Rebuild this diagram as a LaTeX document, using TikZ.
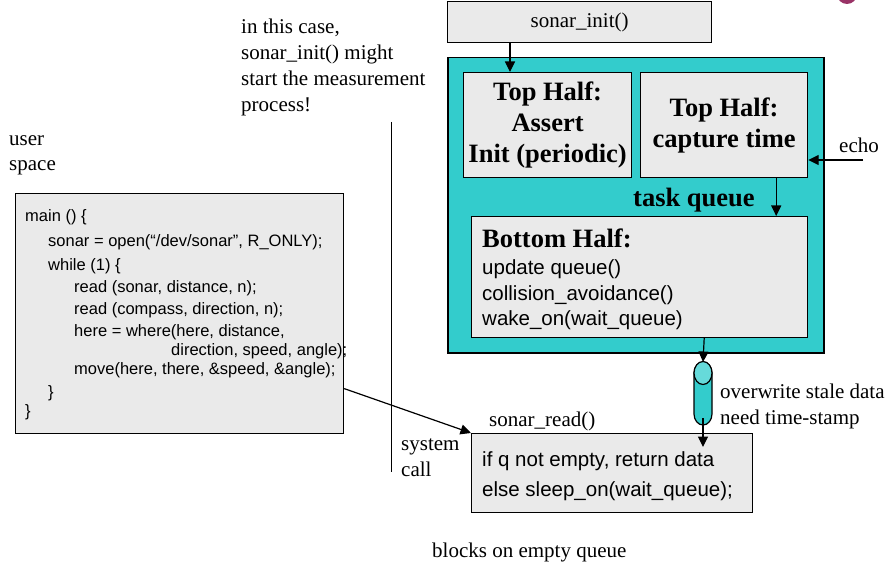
\documentclass[tikz,border=0pt]{standalone}
\usepackage{fontspec}
\setmainfont{Liberation Serif}
\setsansfont{Liberation Sans}
\usetikzlibrary{arrows.meta,positioning}
\definecolor{boxgray}{HTML}{EAEAEA}
\definecolor{qteal}{HTML}{33CCCC}
\definecolor{qlight}{HTML}{66DADA}
\definecolor{dotpink}{HTML}{993366}

\begin{document}
\begin{tikzpicture}
 [x=1pt,y=1pt, >={Triangle[length=10.5pt,width=10pt]},
  gray box/.style={draw,line width=1.2pt,fill=boxgray,anchor=north west,inner sep=0pt},
  half text/.style={font=\fontsize{26.5}{31}\selectfont\bfseries,align=center},
  plain text/.style={font=\fontsize{21}{26}\selectfont,anchor=base west,inner sep=0pt},
  bold text/.style={font=\fontsize{26.5}{31}\selectfont\bfseries,anchor=base west,inner sep=0pt},
  sans text/.style={font=\sffamily\fontsize{20.5}{25}\selectfont,anchor=base west,inner sep=0pt},
  code text/.style={font=\sffamily\fontsize{16.5}{21}\selectfont,anchor=base west,inner sep=0pt},
  link/.style={line width=1.2pt}]

\useasboundingbox (0,0) rectangle (891,-569);
\fill[dotpink] (847,6) circle (10);

% kernel side
\node[gray box,minimum width=264pt,minimum height=41pt,font=\fontsize{21}{26}\selectfont] (init) at (447,-1) {sonar\_init()};
\node[draw,line width=1.5pt,fill=qteal,anchor=north west,minimum width=376pt,minimum height=295pt] (driver) at (447,-57) {};
\node[gray box,minimum width=168pt,minimum height=105pt,half text] (assert) at (463,-72) {Top Half:\\Assert\\Init (periodic)};
\node[gray box,minimum width=167pt,minimum height=105pt,half text] (capture) at (640,-72) {Top Half:\\capture time};
\node[bold text] (tq) at (633,-207) {task queue};
\node[gray box,minimum width=336pt,minimum height=121pt] (bottom) at (471,-216) {};
 \node[bold text] (bh) at (482,-248) {Bottom Half:};
 \node[sans text] (bh1) at (482,-275) {update queue()};
 \node[sans text] (bh2) at (482,-300) {collision\_avoidance()};
 \node[sans text] (bh3) at (482,-325) {wake\_on(wait\_queue)};

\node[plain text] (echo) at (839,-153) {echo};
\coordinate (echo end) at (863,-160);

% the queue
\draw[link,fill=qteal] (694,-373) -- (694,-414) arc[start angle=180,end angle=360,x radius=9,y radius=11]
  -- (712,-373) arc[start angle=0,end angle=180,x radius=9,y radius=11] -- cycle;
\draw[link,fill=qlight] (703,-373) ellipse[x radius=9,y radius=11.5];
\coordinate (cyl top) at (703,-362);
\coordinate (cyl bot) at (703,-418);
\node[plain text] (ow1) at (720,-398) {overwrite stale data};
\node[plain text] (ow2) at (720,-424) {need time-stamp};

\node[gray box,minimum width=281pt,minimum height=79pt] (read) at (471,-433) {};
 \node[sans text] (rd1) at (482,-466) {if q not empty, return data};
 \node[sans text] (rd2) at (482,-496) {else sleep\_on(wait\_queue);};
\node[plain text] (rdname) at (489,-426) {sonar\_read()};

% user side
\node[gray box,minimum width=328pt,minimum height=240pt] (code) at (15,-193) {};
 \node[code text] (c1) at (25,-222) {main () \{};
 \node[code text] (c2) at (48,-247) {sonar = open(“/dev/sonar”, R\_ONLY);};
 \node[code text] (c3) at (48,-271) {while (1) \{};
 \node[code text] (c4) at (74,-292) {read (sonar, distance, n);};
 \node[code text] (c5) at (74,-314) {read (compass, direction, n);};
 \node[code text] (c6) at (74,-336) {here = where(here, distance,};
 \node[code text] (c7) at (171,-355) {direction, speed, angle);};
 \node[code text] (c8) at (74,-374) {move(here, there, \&speed, \&angle);};
 \node[code text] (c9) at (48,-397) {\}};
 \node[code text] (c10) at (25,-416) {\}};

\node[plain text] (us1) at (9,-146) {user};
\node[plain text] (us2) at (9,-171) {space};
\node[plain text] (sc1) at (401,-450) {system};
\node[plain text] (sc2) at (401,-476) {call};
\node[plain text] (note1) at (241,-34) {in this case,};
\node[plain text] (note2) at (241,-60) {sonar\_init() might};
\node[plain text] (note3) at (241,-86) {start the measurement};
\node[plain text] (note4) at (241,-112) {process!};
\node[plain text] (blocks) at (432,-557) {blocks on empty queue};

\coordinate (sys top) at (391,-122);
\coordinate (sys bot) at (391,-472);

% connectors
\draw[line width=1pt] (sys top) -- (sys bot);
\draw[link,->] ([xshift=63pt]init.south west) -- ([xshift=47pt]assert.north west);
\draw[link,->] (echo end) -- (capture.east |- echo end);
\draw[link,->] ([xshift=-32pt]capture.south east) -- ([xshift=-32pt]bottom.north east);
\draw[link,->] ([xshift=-104pt]bottom.south east) -- (cyl top);
\draw[link,->] (cyl bot) -- ([yshift=-14pt]read.north -| cyl bot);
\draw[link,->] ([yshift=-75pt]code.east) -- (read.north west);

\end{tikzpicture}
\end{document}
